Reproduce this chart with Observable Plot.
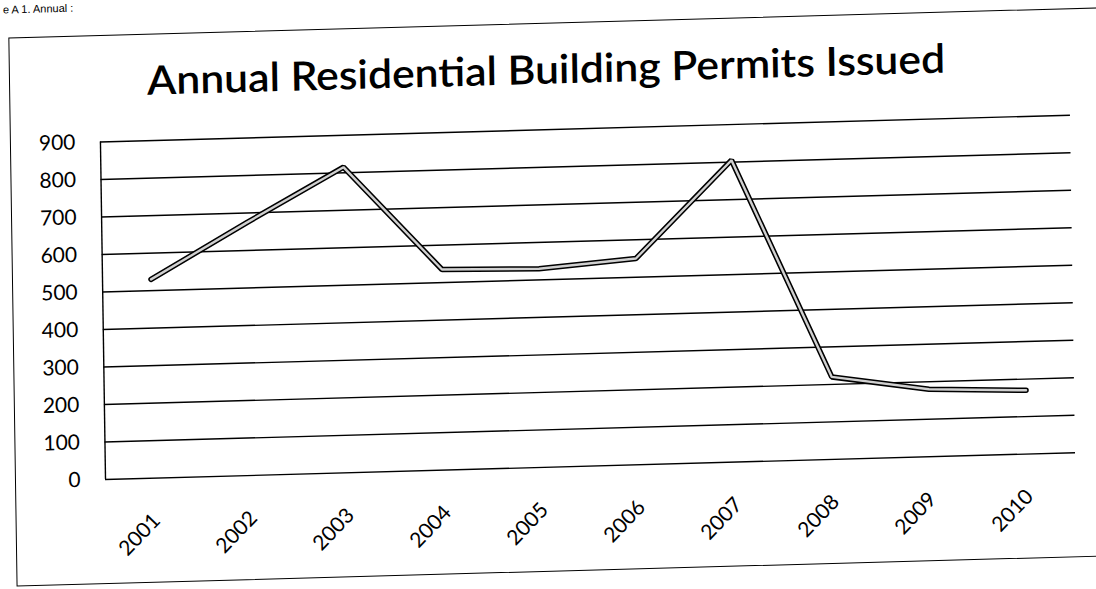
<!DOCTYPE html>
<html>
<head>
<meta charset="utf-8">
<script src="https://cdn.jsdelivr.net/npm/d3@7"></script>
<script src="https://cdn.jsdelivr.net/npm/@observablehq/plot@0.6"></script>
<style>
  html, body { margin: 0; padding: 0; background: #fff; overflow: hidden; }
  #page { position: absolute; left: 0; top: 0; width: 1096px; height: 589px;
          transform-origin: 105px 479px; transform: matrix(1, -0.0276, 0.015, 1, 0, 0); }
  #box { position: absolute; left: 15px; top: 35px; width: 1200px; height: 549px;
         border: 1.6px solid #000; box-sizing: border-box; }
  #frag { position: absolute; left: 10px; top: 1px; font: 11px "Liberation Sans", sans-serif; color: #000; white-space: nowrap; }
  #title { position: absolute; left: 0; top: 0; }
  #chart { position: absolute; left: 0; top: 100px; }
</style>
</head>
<body>
<div id="page">
  <div id="frag">e A 1. Annual :</div>
  <div id="box"></div>
  <svg id="title" width="1096" height="110">
    <text x="153" y="96" textLength="798" lengthAdjust="spacingAndGlyphs"
          font-family="Lato" font-weight="600" font-size="40" fill="#000">Annual Residential Building Permits Issued</text>
  </svg>
  <div id="chart"></div>
</div>
<script>
const years = ["2001", "2002", "2003", "2004", "2005", "2006", "2007", "2008", "2009", "2010"];
const permits = [530, 675, 815, 535, 530, 550, 805, 220, 180, 170];
const yTicks = [0, 100, 200, 300, 400, 500, 600, 700, 800, 900];

const data = years.map((year, i) => ({i, year, value: permits[i]}));
const xDomain = [-0.5, years.length - 0.5];

const chart = Plot.plot({
  width: 1096,
  height: 460,
  marginLeft: 105,
  marginRight: 21,
  marginTop: 41.5,
  marginBottom: 81,
  x: {domain: xDomain, axis: null},
  y: {domain: [0, 900], axis: null},
  style: {fontFamily: "Lato", fontSize: "21px", color: "#000", background: "transparent", overflow: "visible"},
  marks: [
    Plot.ruleY(yTicks, {stroke: "#000", strokeWidth: 1.4}),
    Plot.ruleX([xDomain[0]], {stroke: "#000", strokeWidth: 1.4}),
    Plot.text(yTicks, {frameAnchor: "left", y: d => d, text: d => String(d), textAnchor: "end", lineAnchor: "middle", dx: -25, fontSize: 21, fill: "#000"}),
    Plot.text(years, {x: (d, i) => i, frameAnchor: "bottom", text: d => d, rotate: -45, textAnchor: "end", lineAnchor: "middle", dx: 2, dy: 39, fontSize: 21, fill: "#000"}),
    Plot.line(data, {x: "i", y: "value", stroke: "#000", strokeWidth: 5.5, strokeLinejoin: "miter"}),
    Plot.line(data, {x: "i", y: "value", stroke: "#d0d0d0", strokeWidth: 2.4, strokeLinejoin: "miter"})
  ]
});
document.getElementById("chart").appendChild(chart);
</script>
</body>
</html>
